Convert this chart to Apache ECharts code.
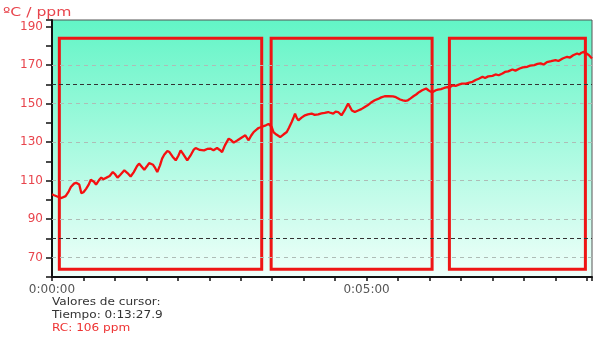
<!DOCTYPE html>
<html>
<head>
<meta charset="utf-8">
<script src="https://cdn.jsdelivr.net/npm/echarts@6/dist/echarts.min.js"></script>
<style>
  html, body { margin: 0; padding: 0; background: #ffffff; }
  #chart { width: 595px; height: 339px; }
</style>
</head>
<body>
<div id="chart"></div>
<script>
// RC reading (ppm) against elapsed time in seconds
const timeSec = [
  0, 2, 5, 9, 13, 16, 18, 21, 23, 26, 28, 30, 32.5, 35, 37, 40, 42, 45, 47, 49,
  51.5, 55, 58, 60, 62.5, 65, 69, 72, 75, 78, 81, 83, 86, 88, 90.5, 92.6, 96.4, 98.5, 100.4, 103,
  105, 107, 110, 112, 115, 118, 120.5, 122.7, 125, 129, 132, 135, 137, 141, 145, 148, 151, 154, 157.4, 160,
  162.2, 165, 168.5, 171, 173.3, 177, 181, 184.4, 187.5, 190, 192.3, 195, 197, 199, 201.7, 204, 206.5, 208, 209.5, 211.2,
  214, 217.6, 220.7, 223.9, 226, 228.6, 230.5, 231.8, 233.5, 235, 238, 241.3, 244, 247.6, 250.5, 253.9, 257, 260, 263.4, 266,
  268.2, 270.5, 272.9, 276.1, 279, 282.4, 284, 286, 288.8, 292, 295, 298.3, 301, 304, 307.8, 311, 314, 317.3, 321, 325.2,
  328, 329.9, 332, 334.7, 337, 339.4, 342, 345, 347.3, 350, 353, 356.8, 359, 361, 363.1, 366, 368, 371, 374, 377,
  379, 382.1, 385, 388, 391, 394.8, 398, 401.1, 404, 407, 410.6, 413, 416, 420.1, 423, 426, 429.6, 432, 435, 439.1,
  442, 446, 449, 453.3, 456, 460, 463, 466, 469, 472, 476, 480.2, 483, 487, 491.3, 494, 497, 500.8, 503, 505,
  507.2, 509, 511.9, 513.5, 515
];
const rcPpm = [
  103, 102.5, 101.8, 101, 102, 104.5, 106.7, 108.5, 109, 108, 103.5, 104, 105.8, 108, 110.5, 109.5, 108, 110.5, 111.6, 110.8,
  111.5, 112.5, 114.5, 113.5, 111.6, 113, 115.4, 114, 112.2, 114.5, 117.5, 118.9, 117, 115.7, 117.5, 119.2, 118.3, 116.5, 114.5, 118,
  121.5, 123.5, 125.5, 124.9, 122.5, 120.6, 123, 125.8, 124, 120.6, 123, 126, 127, 126, 125.8, 126.5, 126.7, 125.8, 127, 126,
  124.9, 128.5, 131.9, 131, 129.8, 131, 132.5, 133.6, 131, 133.5, 135.3, 136.5, 137.4, 137.8, 138.4, 138.8, 139.5, 140, 138, 135.3,
  134, 132.7, 134, 135.3, 137.5, 140.5, 143, 144.9, 142.5, 141.4, 142.8, 144, 144.5, 144.9, 144.2, 144.5, 145, 145.3, 145.7, 145.2,
  144.9, 145.9, 145.7, 144, 146.5, 150.1, 148.5, 146.5, 145.7, 146.5, 147.2, 148.3, 149.2, 150.5, 151.8, 152.5, 153.3, 153.9, 154, 153.8,
  153.4, 152.7, 152.2, 151.8, 151.5, 151.8, 152.8, 154, 154.8, 156, 157, 157.9, 157, 156.3, 156.1, 157, 157.3, 157.6, 158.2, 158.6,
  158.4, 159.6, 159.3, 159.9, 160.4, 160.5, 161, 161.4, 162.3, 163, 164, 163.4, 164.2, 164.5, 165.2, 164.8, 165.7, 166.5, 166.8, 167.8,
  167.2, 168.3, 168.9, 169.2, 169.8, 170.1, 170.7, 171, 170.4, 171.6, 172.1, 172.7, 172.2, 173.5, 174.4, 174, 175.2, 176.1, 175.6, 176.5,
  177, 176.4, 175.3, 174.3, 173.5
];

// Highlighted time windows (seconds) and their vertical extent (ppm)
const windowStart = [7, 209, 379];
const windowEnd = [200, 362.5, 508.7];
const windowTop = 184;
const windowBottom = 64;

// Reference levels
const limitLines = [160, 80];
const gridValues = [70, 90, 110, 130, 150, 170];

const yMin = 60, yMax = 193.5, yStep = 10;
const xMin = 0, xMax = 515, xStep = 30, xLabelEvery = 300;

function hms(sec) {
  const h = Math.floor(sec / 3600);
  const m = Math.floor((sec % 3600) / 60);
  const s = Math.round(sec % 60);
  return h + ':' + String(m).padStart(2, '0') + ':' + String(s).padStart(2, '0');
}

const chart = echarts.init(document.getElementById('chart'), null, { renderer: 'canvas' });

const option = {
  animation: false,
  backgroundColor: '#ffffff',
  grid: {
    left: 52, right: 0, top: 20, bottom: 62,
    show: true,
    borderColor: '#555555',
    borderWidth: 1,
    backgroundColor: {
      type: 'linear', x: 0, y: 0, x2: 0, y2: 1,
      colorStops: [
        { offset: 0, color: '#62f5c6' },
        { offset: 1, color: '#f0fffa' }
      ]
    }
  },
  xAxis: {
    type: 'value',
    min: xMin, max: xMax, interval: xStep,
    axisLine: { show: true, onZero: false, lineStyle: { color: '#111111', width: 2 } },
    axisTick: { show: true, length: 4, lineStyle: { color: '#111111', width: 1.5 } },
    axisLabel: {
      color: '#555555', fontFamily: 'DejaVu Sans', fontSize: 12, margin: 7,
      formatter: v => (v % xLabelEvery === 0 ? hms(v) : '')
    },
    splitLine: { show: false }
  },
  yAxis: {
    type: 'value',
    min: yMin, max: yMax, interval: yStep,
    axisLine: { show: true, lineStyle: { color: '#111111', width: 2 } },
    axisTick: { show: true, length: 6, lineStyle: { color: '#111111', width: 1.5 } },
    axisLabel: {
      color: '#e8444c', fontFamily: 'DejaVu Sans', fontSize: 12, margin: 9,
      formatter: v => (v % 20 === 10 ? String(v) : '')
    },
    splitLine: { show: false }
  },
  graphic: [
    { type: 'text', x: 3, y: 7, scaleX: 1.3, style: { text: 'ºC / ppm', fill: '#e8444c', font: '12px "DejaVu Sans"' } },
    { type: 'text', x: 52, y: 297, scaleX: 1.1, style: { text: 'Valores de cursor:', fill: '#333333', font: '11px "DejaVu Sans"' } },
    { type: 'text', x: 52, y: 310, scaleX: 1.1, style: { text: 'Tiempo: 0:13:27.9', fill: '#333333', font: '11px "DejaVu Sans"' } },
    { type: 'text', x: 52, y: 323, scaleX: 1.1, style: { text: 'RC: 106 ppm', fill: '#ee3333', font: '11px "DejaVu Sans"' } }
  ],
  series: [
    {
      name: 'grid',
      type: 'line',
      data: [],
      z: 1,
      markLine: {
        silent: true,
        symbol: 'none',
        label: { show: false },
        lineStyle: { color: '#aebcb6', type: [4, 4], width: 1 },
        data: gridValues.map(v => ({ yAxis: v }))
      }
    },
    {
      name: 'limits',
      type: 'line',
      data: [],
      z: 3,
      markLine: {
        silent: true,
        symbol: 'none',
        label: { show: false },
        lineStyle: { color: '#333333', type: [4, 3], width: 1 },
        data: limitLines.map(v => ({ yAxis: v }))
      }
    },
    {
      name: 'windows',
      type: 'line',
      data: [],
      z: 4,
      markArea: {
        silent: true,
        itemStyle: { color: 'rgba(0,0,0,0)', borderColor: '#ee1515', borderWidth: 3 },
        data: windowStart.map((s, i) => [
          { coord: [s, windowTop] },
          { coord: [windowEnd[i], windowBottom] }
        ])
      }
    },
    {
      name: 'RC',
      type: 'line',
      z: 6,
      showSymbol: false,
      symbol: 'none',
      lineStyle: { color: '#f51010', width: 2.3 },
      data: timeSec.map((t, i) => [t, rcPpm[i]])
    }
  ]
};

chart.setOption(option);
</script>
</body>
</html>
